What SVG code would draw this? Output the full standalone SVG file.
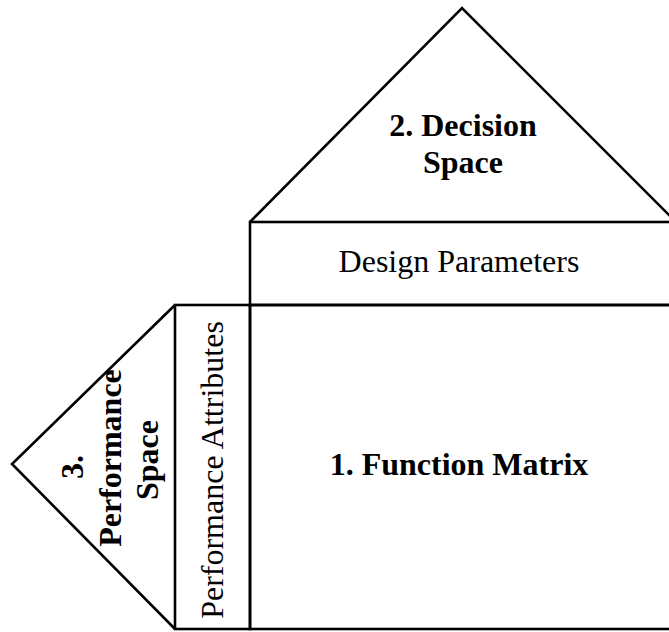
<svg xmlns="http://www.w3.org/2000/svg" width="669" height="632" viewBox="0 0 669 632">
<style>
.s{fill:none;stroke:#000;stroke-width:2.6;stroke-linejoin:miter}
.t{font-family:"Liberation Serif","Times New Roman",serif;font-size:32px;fill:#000;text-anchor:middle}
.b{font-weight:bold}
</style>
<rect width="669" height="632" fill="#fff"/>
<g id="decision-space">
<polyline class="s" points="250,222 462,8 676,222"/>
<text class="t b" x="463" y="136">2. Decision</text>
<text class="t b" x="463" y="173">Space</text>
</g>
<g id="design-parameters">
<rect class="s" x="250" y="222" width="425" height="83"/>
<text class="t" x="459" y="272">Design Parameters</text>
</g>
<g id="function-matrix">
<rect class="s" x="250" y="305" width="425" height="324"/>
<text class="t b" x="459" y="475">1. Function Matrix</text>
</g>
<g id="performance-attributes">
<rect class="s" x="175" y="305" width="75" height="324"/>
<text class="t" x="223" y="470" transform="rotate(-90 223 470)">Performance Attributes</text>
</g>
<g id="performance-space">
<polyline class="s" points="175,305 12,464 175,629"/>
<text class="t b" x="83" y="467" transform="rotate(-90 83 467)">3.</text>
<text class="t b" x="121" y="458" transform="rotate(-90 121 458)">Performance</text>
<text class="t b" x="158" y="460" transform="rotate(-90 158 460)">Space</text>
</g>
<g id="connectors"/>
</svg>
